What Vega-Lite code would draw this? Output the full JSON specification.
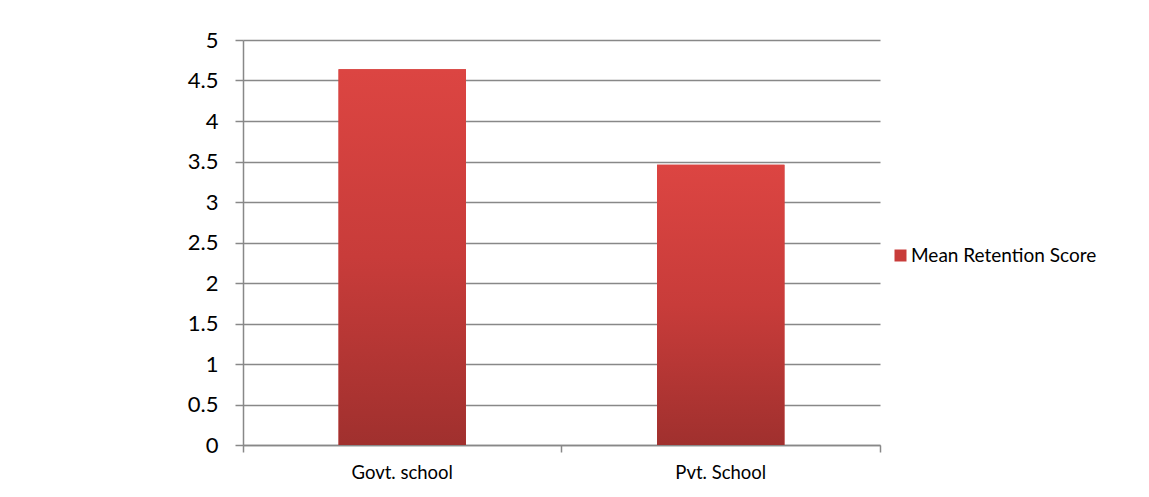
{
  "$schema": "https://vega.github.io/schema/vega-lite/v6.json",
  "width": 637,
  "height": 405,
  "autosize": "none",
  "padding": {"left": 243, "top": 40, "right": 269, "bottom": 52},
  "background": "white",
  "config": {
    "font": "Lato",
    "view": {"stroke": null}
  },
  "data": {
    "values": [
      {"school": "Govt. school", "score": 4.64, "series": "Mean Retention Score"},
      {"school": "Pvt. School", "score": 3.46, "series": "Mean Retention Score"}
    ]
  },
  "encoding": {
    "x": {
      "field": "school",
      "type": "nominal",
      "sort": null,
      "scale": {"paddingInner": 0, "paddingOuter": 0},
      "axis": {
        "title": null,
        "labelAngle": 0,
        "labelFontSize": 18.5,
        "labelColor": "#000000",
        "labelPadding": 11,
        "bandPosition": 1,
        "tickExtra": true,
        "tickSize": 7,
        "tickColor": "#888888",
        "tickWidth": 1.5,
        "domainColor": "#888888",
        "domainWidth": 1.5,
        "grid": false
      }
    },
    "y": {
      "field": "score",
      "type": "quantitative",
      "scale": {"domain": [0, 5], "nice": false},
      "axis": {
        "title": null,
        "values": [0, 0.5, 1, 1.5, 2, 2.5, 3, 3.5, 4, 4.5, 5],
        "format": "~g",
        "labelFontSize": 22,
        "labelColor": "#000000",
        "labelPadding": 17,
        "tickSize": 8,
        "tickColor": "#888888",
        "tickWidth": 1.5,
        "domainColor": "#888888",
        "domainWidth": 1.5,
        "grid": true,
        "gridColor": "#888888",
        "gridWidth": 1.5
      }
    }
  },
  "layer": [
    {
      "mark": {"type": "bar", "width": {"band": 0.4}},
      "encoding": {
        "color": {
          "field": "series",
          "type": "nominal",
          "scale": {"range": ["#c83c3a"]},
          "legend": {
            "title": null,
            "orient": "none",
            "legendX": 648,
            "legendY": 206,
            "symbolType": "square",
            "symbolSize": 144,
            "symbolStrokeWidth": 0,
            "labelFontSize": 19,
            "labelLimit": 400,
            "labelColor": "#000000",
            "labelOffset": 1
          }
        }
      }
    },
    {
      "mark": {
        "type": "bar",
        "width": {"band": 0.4},
        "color": {
          "gradient": "linear",
          "x1": 0, "y1": 0, "x2": 0, "y2": 1,
          "stops": [
            {"offset": 0, "color": "#dc4542"},
            {"offset": 0.5, "color": "#c83c3a"},
            {"offset": 1, "color": "#a0302e"}
          ]
        }
      }
    }
  ]
}
